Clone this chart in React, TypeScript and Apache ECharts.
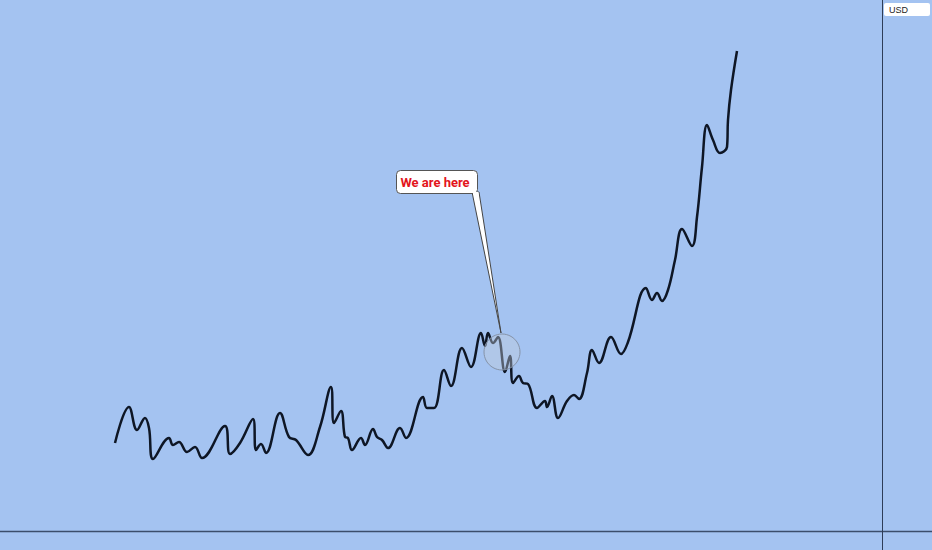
import React, { useEffect, useRef } from "react";
import * as echarts from "echarts";

// time index (horizontal position units) and price values
const timeIdx: number[] = [
  115, 129, 137, 145, 149, 153, 169, 173, 179, 187, 195, 202, 225, 230, 240, 253, 256, 261, 266, 280,
  289, 296, 308, 320, 331, 334, 341, 345, 348, 352, 361, 365, 373, 377, 382, 388, 400, 406, 423, 427,
  434, 444, 451, 462, 471, 481, 485, 488, 493, 498, 505, 510, 513, 519, 523, 528, 537, 545, 547, 552,
  558, 567, 574, 579, 587, 592, 599, 611, 621, 628, 646, 652, 657, 662, 668, 675, 682, 692, 697, 702,
  707, 713, 720, 727, 728, 731, 737,
];
const price: number[] = [
  88, 124, 101, 113, 103, 72, 93, 86, 89, 79, 84, 73, 105, 77, 88, 112, 81, 87, 78, 118,
  94, 91, 76, 104, 144, 108, 120, 94, 93, 81, 93, 86, 102, 94, 91, 83, 103, 93, 134, 123,
  123, 161, 145, 183, 164, 198, 185, 198, 188, 194, 159, 175, 148, 155, 148, 147, 123, 130, 124, 135,
  113, 130, 136, 132, 158, 181, 168, 194, 177, 189, 243, 231, 238, 230, 241, 271, 302, 285, 314, 364,
  406, 391, 378, 384, 411, 441, 480,
];
const herePoint: [number, number] = [502, 179];
const calloutText = "We are here";
const currencyLabel = "USD";

export default function App() {
  const ref = useRef<HTMLDivElement>(null);
  useEffect(() => {
    document.body.style.margin = "0";
    const chart = echarts.init(ref.current!, undefined, { renderer: "svg" });
    const data = timeIdx.map((t, i) => [t, price[i]]);
    chart.setOption({
      animation: false,
      backgroundColor: "#a4c3f1",
      grid: { left: 0, right: 50, top: 0, bottom: 19 },
      xAxis: { type: "value", min: 0, max: 882, show: false },
      yAxis: { type: "value", min: 0, max: 531, show: false },
      series: [
        {
          type: "line",
          data,
          smooth: 0.4,
          symbol: "none",
          lineStyle: { color: "#0e1625", width: 2.5 },
          markPoint: {
            silent: true,
            data: [
              {
                coord: herePoint,
                symbol: "circle",
                symbolSize: 36,
                itemStyle: { color: "rgba(195,205,220,0.4)", borderColor: "#8593a8", borderWidth: 1 },
                label: { show: false },
              },
            ],
          },
        },
      ],
      graphic: [
        { type: "line", z: 50, shape: { x1: 0, y1: 531.5, x2: 932, y2: 531.5 }, style: { stroke: "#3b4d6b", lineWidth: 1.4 } },
        { type: "line", z: 50, shape: { x1: 882.5, y1: 0, x2: 882.5, y2: 550 }, style: { stroke: "#2e3d58", lineWidth: 1 } },
        { type: "rect", z: 60, shape: { x: 884, y: 3, width: 46, height: 13, r: 2 }, style: { fill: "#ffffff" } },
        {
          type: "text", z: 61, x: 889, y: 9.5,
          style: { text: currencyLabel, fill: "#222", font: "9px 'Liberation Sans', Arial, sans-serif", verticalAlign: "middle" },
        },
        {
          type: "polygon", z: 100,
          shape: { points: [[472, 192], [479, 192], [501, 333]] },
          style: { fill: "#ffffff", stroke: "#444", lineWidth: 1 },
        },
        {
          type: "rect", z: 101,
          shape: { x: 396.5, y: 170.5, width: 81, height: 23, r: 4 },
          style: { fill: "#ffffff", stroke: "#555", lineWidth: 1 },
        },
        { type: "rect", z: 102, shape: { x: 473, y: 192, width: 5.5, height: 3 }, style: { fill: "#ffffff" } },
        {
          type: "text", z: 103, x: 435, y: 182,
          style: {
            text: calloutText, fill: "#e3141c",
            font: "bold 13px Roboto, 'Liberation Sans', Arial, sans-serif",
            align: "center", verticalAlign: "middle",
          },
        },
      ],
    });
    return () => chart.dispose();
  }, []);
  return <div ref={ref} style={{ position: "absolute", left: 0, top: 0, width: 932, height: 550 }} />;
}
